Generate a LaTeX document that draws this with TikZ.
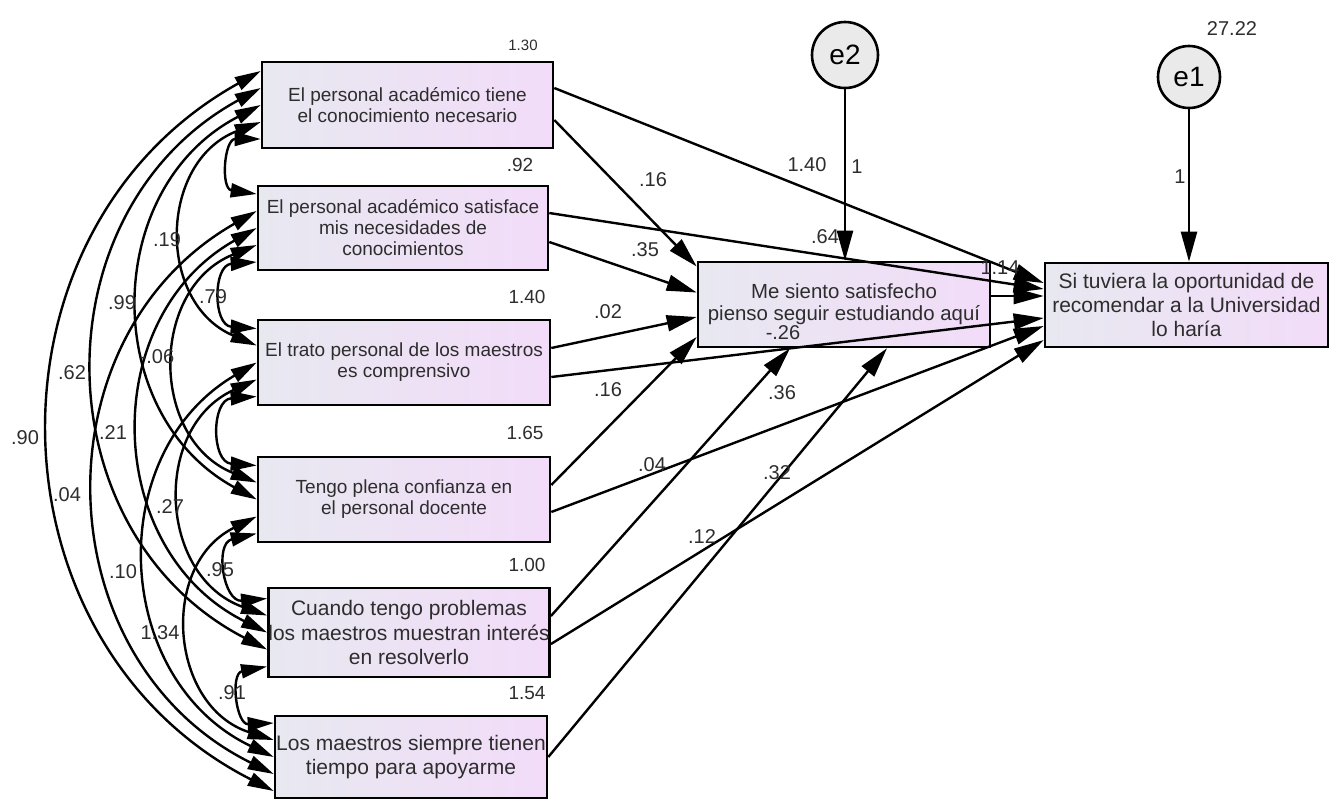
\documentclass[tikz,border=0pt]{standalone}
\usepackage{fontspec}
\setmainfont{Liberation Sans}
\usetikzlibrary{arrows.meta}

\definecolor{boxleft}{RGB}{232,232,240}
\definecolor{boxright}{RGB}{242,220,249}
\definecolor{errfill}{RGB}{234,234,234}
\definecolor{txt}{RGB}{45,45,45}

\newcommand{\smallbox}{\fontsize{9.5}{10.5}\selectfont}
\newcommand{\midbox}{\fontsize{10.2}{10.8}\selectfont}
\newcommand{\bigbox}{\fontsize{10.5}{12.2}\selectfont}

\tikzset{
  obs/.style={draw, line width=1.3pt, left color=boxleft, right color=boxright,
    align=center, inner sep=0pt, text=txt},
  err/.style={circle, draw, line width=1.3pt, fill=errfill, inner sep=0pt,
    font=\fontsize{14}{14}\selectfont},
  reg/.style={line width=1.2pt, ->, >={Triangle[length=15pt,width=8pt]}},
  cov/.style={line width=1.2pt, <->, >={Triangle[length=13pt,width=7pt]}},
  covnear/.style={cov, bend right=86, looseness=1.7},
  covmid/.style={cov, bend right=68, looseness=1.25},
  covfar/.style={cov, bend right=62, looseness=1.16},
  lbl/.style={font=\fontsize{10}{10}\selectfont, text=txt, inner sep=0pt},
}

\begin{document}
\begin{tikzpicture}[x=0.5pt, y=0.5pt]
\useasboundingbox (0,0) rectangle (1330,-800);

\node[obs, minimum width=145.5pt, minimum height=43pt, font=\smallbox] (conoc) at (407.5,-105)
  {El personal académico tiene\\el conocimiento necesario};
\node[obs, minimum width=145pt, minimum height=42pt, font=\smallbox] (satisf) at (403,-228)
  {El personal académico satisface\\mis necesidades de\\conocimientos};
\node[obs, minimum width=146pt, minimum height=42.5pt, font=\smallbox] (trato) at (404,-362.5)
  {El trato personal de los maestros\\es comprensivo};
\node[obs, minimum width=146pt, minimum height=42.5pt, font=\smallbox] (confianza) at (404,-499.5)
  {Tengo plena confianza en\\el personal docente};
\node[obs, minimum width=139pt, minimum height=44.5pt, font=\bigbox] (interes) at (409,-632.5)
  {Cuando tengo problemas\\los maestros muestran interés\\en resolverlo};
\node[obs, minimum width=136pt, minimum height=41pt, font=\bigbox] (tiempo) at (411,-757)
  {Los maestros siempre tienen\\tiempo para apoyarme};
\node[obs, minimum width=146pt, minimum height=42.5pt, font=\midbox] (satisfecho) at (844,-304.5)
  {Me siento satisfecho\\pienso seguir estudiando aquí};
\node[obs, minimum width=141.5pt, minimum height=42pt, font=\bigbox] (recomienda) at (1186.5,-305)
  {Si tuviera la oportunidad de\\recomendar a la Universidad\\lo haría};
\node[err, minimum size=33pt] (e2) at (845,-55) {e2};
\node[err, minimum size=31pt] (e1) at (1189,-77) {e1};

\draw[reg] (e2.south) -- (e2.south |- satisfecho.north);
\draw[reg] (e1.south) -- (e1.south |- recomienda.north);

\draw[reg] ([yshift=-7.5pt]conoc.east) -- ([yshift=19pt]satisfecho.west);
\draw[reg] ([yshift=8.5pt]conoc.east) -- ([yshift=11pt]recomienda.west);
\draw[reg] ([yshift=-7pt]satisf.east) -- ([yshift=6pt]satisfecho.west);
\draw[reg] ([yshift=7.5pt]satisf.east) -- ([yshift=8pt]recomienda.west);
\draw[reg] ([yshift=7.25pt]trato.east) -- ([yshift=-6.25pt]satisfecho.west);
\draw[reg] ([yshift=-7.25pt]trato.east) -- ([yshift=-6.5pt]recomienda.west);
\draw[reg] ([yshift=7.25pt]confianza.east) -- ([yshift=-16.25pt]satisfecho.west);
\draw[reg] ([yshift=-6.25pt]confianza.east) -- ([yshift=-10.5pt]recomienda.west);
\draw[reg] ([yshift=8.25pt]interes.east) -- ([xshift=-27pt]satisfecho.south);
\draw[reg] ([yshift=-5.75pt]interes.east) -- ([yshift=-17.5pt]recomienda.west);
\draw[reg] (tiempo.east) -- ([xshift=21.5pt]satisfecho.south);
\draw[reg] ([yshift=4.25pt]satisfecho.east) -- ([yshift=4.5pt]recomienda.west);

\draw[covnear] ([yshift=-17pt]conoc.west) to ([yshift=17pt]satisf.west);
\draw[covmid] ([yshift=-8.5pt]conoc.west) to ([yshift=8.5pt]trato.west);
\draw[covfar] (conoc.west) to (confianza.west);
\draw[covfar] ([yshift=8.5pt]conoc.west) to ([yshift=-8.5pt]interes.west);
\draw[covfar] ([yshift=17pt]conoc.west) to ([yshift=-17pt]tiempo.west);
\draw[covnear] ([yshift=-17pt]satisf.west) to ([yshift=17pt]trato.west);
\draw[covmid] ([yshift=-8.5pt]satisf.west) to ([yshift=8.5pt]confianza.west);
\draw[covfar] (satisf.west) to (interes.west);
\draw[covfar] ([yshift=8.5pt]satisf.west) to ([yshift=-8.5pt]tiempo.west);
\draw[covnear] ([yshift=-17pt]trato.west) to ([yshift=17pt]confianza.west);
\draw[covmid] ([yshift=-8.5pt]trato.west) to ([yshift=8.5pt]interes.west);
\draw[covfar] (trato.west) to (tiempo.west);
\draw[covnear] ([yshift=-17pt]confianza.west) to ([yshift=17pt]interes.west);
\draw[covmid] ([yshift=-8.5pt]confianza.west) to ([yshift=8.5pt]tiempo.west);
\draw[covnear] ([yshift=-17pt]interes.west) to ([yshift=17pt]tiempo.west);

\node[lbl, font=\fontsize{7.5}{7.5}\selectfont] (vconoc) at (523,-45) {1.30};
\node[lbl, font=\fontsize{9.5}{9.5}\selectfont] (vsatisf) at (520,-165) {.92};
\node[lbl, font=\fontsize{9.5}{9.5}\selectfont] (vtrato) at (527,-297) {1.40};
\node[lbl, font=\fontsize{9.5}{9.5}\selectfont] (vconfianza) at (525,-433) {1.65};
\node[lbl, font=\fontsize{9.5}{9.5}\selectfont] (vinteres) at (527,-565) {1.00};
\node[lbl, font=\fontsize{9.5}{9.5}\selectfont] (vtiempo) at (527,-693) {1.54};
\node[lbl] (ve1) at (1232,-29) {27.22};

\node[lbl] (w1m) at (653,-180) {.16};
\node[lbl] (w1y) at (807,-165) {1.40};
\node[lbl] (we2) at (857,-167) {1};
\node[lbl] (we1) at (1180,-177) {1};
\node[lbl] (w2m) at (645,-250) {.35};
\node[lbl] (w2y) at (825,-237) {.64};
\node[lbl] (w3m) at (608,-312) {.02};
\node[lbl] (w3y) at (783,-333) {-.26};
\node[lbl] (wmy) at (1000,-268) {1.14};
\node[lbl] (w4m) at (608,-390) {.16};
\node[lbl] (w5m) at (782,-393) {.36};
\node[lbl] (w4y) at (652,-465) {.04};
\node[lbl] (w6m) at (777,-473) {.32};
\node[lbl] (w5y) at (702,-537) {.12};

\node[lbl] (c16) at (25,-438) {.90};
\node[lbl] (c15) at (72,-373) {.62};
\node[lbl] (c26) at (67,-495) {.04};
\node[lbl] (c25) at (113,-433) {.21};
\node[lbl] (c14) at (122,-303) {.99};
\node[lbl] (c36) at (123,-572) {.10};
\node[lbl] (c13) at (167,-240) {.19};
\node[lbl] (c24) at (157,-357) {-.06};
\node[lbl] (c46) at (160,-633) {1.34};
\node[lbl] (c35) at (170,-507) {.27};
\node[lbl] (c23) at (213,-297) {.79};
\node[lbl] (c45) at (220,-570) {.95};
\node[lbl] (c56) at (232,-693) {.91};
\end{tikzpicture}
\end{document}
